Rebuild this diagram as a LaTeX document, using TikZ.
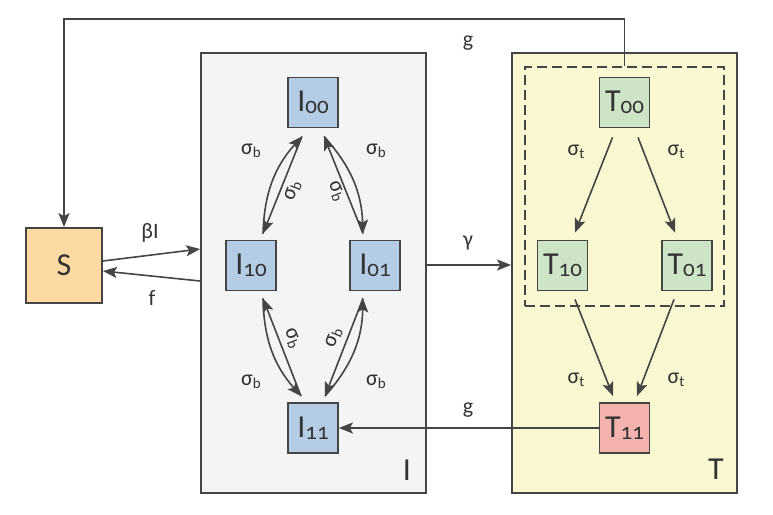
\documentclass[tikz,border=0pt]{standalone}
\usepackage{fontspec}
\setmainfont{Carlito}
\newfontfamily\subfont[Numbers=OldStyle]{Carlito}
\usetikzlibrary{arrows.meta}
\definecolor{lc}{HTML}{454545}
\definecolor{tc}{HTML}{333333}
\definecolor{ibg}{HTML}{F3F4F6}
\definecolor{tbg}{HTML}{FAF8D0}
\definecolor{ifill}{HTML}{B4CDE4}
\definecolor{tfill}{HTML}{CDE5C6}
\definecolor{rfill}{HTML}{F5B3AF}
\definecolor{sfill}{HTML}{FDD9A4}
\newcommand\nsub[1]{\raisebox{-2pt}{\fontsize{23}{23}\selectfont\subfont #1}}
\newcommand\lsub[1]{\raisebox{-2.5pt}{\fontsize{15}{15}\selectfont #1}}
\tikzset{
  line/.style={draw=lc, line width=1.6pt},
  arr/.style={line, -{Stealth[length=14pt,width=11pt,inset=3pt]}},
  sq/.style={draw=lc, line width=1.8pt, minimum width=50pt, minimum height=50pt, inner sep=0pt, font=\fontsize{32}{32}\selectfont, text=tc},
  container/.style={draw=lc, line width=1.8pt, inner sep=0pt},
  lab/.style={font=\fontsize{22}{22}\selectfont, text=tc, inner sep=0pt},
  biglab/.style={font=\fontsize{32}{32}\selectfont, text=tc, inner sep=0pt},
}
\begin{document}
\begin{tikzpicture}[x=1pt,y=-1pt]
\useasboundingbox (0,0) rectangle (773,514);
% containers
\node[container, fill=ibg, minimum width=225pt, minimum height=440pt] (boxI) at (313.5,273) {};
\node[container, fill=tbg, minimum width=225pt, minimum height=440pt] (boxT) at (624.5,273) {};
\node[draw=lc, line width=1.6pt, dashed, dash pattern=on 10pt off 5pt, minimum width=199pt, minimum height=239pt, inner sep=0pt] (dbox) at (624.5,186.5) {};
\node[biglab] (labI) at (407,470) {I};
\node[biglab] (labT) at (716,469) {T};
% nodes
\node[sq, fill=sfill, minimum width=76pt, minimum height=75pt] (S) at (64,265.5) {S};
\node[sq, fill=ifill] (I00) at (313,102.5) {I\nsub{00}};
\node[sq, fill=ifill] (I10) at (251,265.5) {I\nsub{10}};
\node[sq, fill=ifill] (I01) at (375,265.5) {I\nsub{01}};
\node[sq, fill=ifill] (I11) at (313,428) {I\nsub{11}};
\node[sq, fill=tfill] (T00) at (624.5,102.5) {T\nsub{00}};
\node[sq, fill=tfill] (T10) at (562.5,265.5) {T\nsub{10}};
\node[sq, fill=tfill] (T01) at (687,265.5) {T\nsub{01}};
\node[sq, fill=rfill] (T11) at (624.5,428) {T\nsub{11}};
% outer connectors
\draw[arr] (dbox.north) -- ++(0,-47) -| (S.north);
\node[lab] (lg1) at (468,43) {g};
\draw[arr] ([yshift=4.5pt]S.east) -- ([yshift=24pt]boxI.west);
\node[lab] (lbeta) at (150,233) {βI};
\draw[arr] ([yshift=-8pt]boxI.west) -- ([yshift=-5.5pt]S.east);
\node[lab] (lf) at (152,298) {f};
\draw[arr] ([yshift=8pt]boxI.east) -- ([yshift=8pt]boxT.west);
\node[lab] (lgam) at (468,243) {γ};
\draw[arr] (T11.west) -- (I11.east);
\node[lab] (lg2) at (468,410) {g};
% T transitions
\draw[arr] ([xshift=-12pt,yshift=-9pt]T00.south) -- ([xshift=12.5pt,yshift=7pt]T10.north);
\draw[arr] ([xshift=13.5pt,yshift=-9pt]T00.south) -- ([xshift=-12pt,yshift=7pt]T01.north);
\draw[arr] ([xshift=12.5pt,yshift=-8pt]T10.south) -- ([xshift=-11.5pt,yshift=6pt]T11.north);
\draw[arr] ([xshift=-13pt,yshift=-8pt]T01.south) -- ([xshift=12.5pt,yshift=6pt]T11.north);
\node[lab] (st1) at (576,152) {σ\lsub{t}};
\node[lab] (st2) at (676,152) {σ\lsub{t}};
\node[lab] (st3) at (576,380) {σ\lsub{t}};
\node[lab] (st4) at (676,380) {σ\lsub{t}};
% I transitions
\coordinate (a1) at ([xshift=-11pt,yshift=-8pt]I00.south);
\coordinate (a2) at ([xshift=12pt,yshift=6pt]I10.north);
\coordinate (b1) at ([xshift=11pt,yshift=-8pt]I00.south);
\coordinate (b2) at ([xshift=-12pt,yshift=6pt]I01.north);
\coordinate (c1) at ([xshift=12pt,yshift=-7pt]I10.south);
\coordinate (c2) at ([xshift=-12pt,yshift=6pt]I11.north);
\coordinate (d1) at ([xshift=-12pt,yshift=-7pt]I01.south);
\coordinate (d2) at ([xshift=12pt,yshift=6pt]I11.north);
\draw[arr] (a1) -- (a2);
\draw[arr] (a2) to[bend left=20] (a1);
\draw[arr] (b2) -- (b1);
\draw[arr] (b1) to[bend left=20] (b2);
\draw[arr] (c2) -- (c1);
\draw[arr] (c1) to[bend right=20] (c2);
\draw[arr] (d1) -- (d2);
\draw[arr] (d2) to[bend right=20] (d1);
\node[lab] (sb1) at (251,151) {σ\lsub{b}};
\node[lab] (sb2) at (376,151) {σ\lsub{b}};
\node[lab] (sb3) at (251,382) {σ\lsub{b}};
\node[lab] (sb4) at (376,382) {σ\lsub{b}};
\node[lab, rotate=69] (sb5) at (293,191) {σ\lsub{b}};
\node[lab, rotate=-68] (sb6) at (336,191) {σ\lsub{b}};
\node[lab, rotate=-69] (sb7) at (292,338) {σ\lsub{b}};
\node[lab, rotate=68] (sb8) at (334,338) {σ\lsub{b}};
\end{tikzpicture}
\end{document}
